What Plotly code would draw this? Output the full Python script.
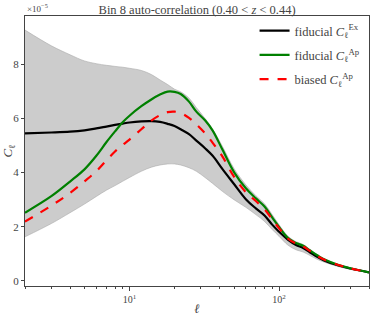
import plotly.graph_objects as go

# multipole grid
ell = [2, 3, 4, 5, 6, 7, 8, 9, 10, 12, 14, 16, 18, 20, 22, 25, 28, 32, 36, 42,
       50, 60, 70, 80, 90, 100, 115, 130, 145, 160, 180, 200, 250, 300, 400]

# values in units of 1e-5
fid_ex = [5.45, 5.48, 5.51, 5.56, 5.63, 5.70, 5.76, 5.81, 5.85, 5.89, 5.90, 5.87, 5.80, 5.72, 5.60,
          5.42, 5.18, 4.90, 4.62, 4.12, 3.58, 3.02, 2.68, 2.42, 2.08, 1.82, 1.52, 1.33, 1.22, 1.07,
          0.89, 0.76, 0.57, 0.46, 0.32]
fid_ap = [2.52, 3.13, 3.67, 4.12, 4.62, 5.12, 5.52, 5.86, 6.10, 6.45, 6.70, 6.88, 6.99, 6.98, 6.90,
          6.62, 6.25, 5.93, 5.55, 4.83, 4.02, 3.42, 3.05, 2.75, 2.35, 2.00, 1.58, 1.40, 1.30, 1.14,
          0.95, 0.80, 0.59, 0.47, 0.32]
bias_ap = [2.19, 2.78, 3.25, 3.68, 4.05, 4.45, 4.78, 5.02, 5.22, 5.60, 5.92, 6.12, 6.23, 6.25, 6.20,
           6.02, 5.78, 5.45, 5.10, 4.58, 3.85, 3.28, 2.95, 2.65, 2.28, 1.95, 1.56, 1.38, 1.28, 1.12,
           0.93, 0.79, 0.59, 0.47, 0.32]
band_hi = [9.26, 8.68, 8.35, 8.12, 8.02, 7.96, 7.92, 7.89, 7.85, 7.77, 7.62, 7.42, 7.25, 7.08, 6.98,
           6.75, 6.40, 6.00, 5.60, 4.95, 4.15, 3.55, 3.15, 2.85, 2.45, 2.08, 1.65, 1.45, 1.35, 1.18,
           0.98, 0.82, 0.61, 0.48, 0.33]
band_lo = [1.63, 2.12, 2.52, 2.84, 3.12, 3.35, 3.52, 3.68, 3.82, 4.05, 4.20, 4.28, 4.32, 4.32, 4.28,
           4.18, 4.05, 3.82, 3.60, 3.30, 3.00, 2.72, 2.45, 2.20, 1.90, 1.65, 1.32, 1.15, 1.07, 0.95,
           0.80, 0.70, 0.53, 0.43, 0.30]

y_ticks = [0, 2, 4, 6, 8]
x_ticks = [10, 100]
x_tick_text = ["10<sup>1</sup>", "10<sup>2</sup>"]

FONT = "Liberation Serif"
AX = "#444444"

fig = go.Figure()
fig.add_trace(go.Scatter(x=ell, y=band_hi, mode="lines", line=dict(color="rgb(170,170,170)", width=0.6, shape="spline"),
                         showlegend=False, hoverinfo="skip"))
fig.add_trace(go.Scatter(x=ell, y=band_lo, mode="lines", line=dict(color="rgb(170,170,170)", width=0.6, shape="spline"),
                         fill="tonexty", fillcolor="rgb(204,204,204)", showlegend=False, hoverinfo="skip"))
fig.add_trace(go.Scatter(x=ell, y=fid_ex, mode="lines", line=dict(color="black", width=2.2, shape="spline"),
                         legendgroup="a", name="fiducial <i>C</i><sub>ℓ</sub><sup>Ex</sup>"))
fig.add_trace(go.Scatter(x=ell, y=fid_ap, mode="lines", line=dict(color="green", width=2.2, shape="spline"),
                         legendgroup="b", name="fiducial <i>C</i><sub>ℓ</sub><sup>Ap</sup>"))
fig.add_trace(go.Scatter(x=ell, y=bias_ap, mode="lines",
                         line=dict(color="red", width=2.2, dash="dash", shape="spline"),
                         legendgroup="c", name="biased <i>C</i><sub>ℓ</sub><sup>Ap</sup>"))

fig.update_layout(
    width=374, height=316,
    margin=dict(l=25, r=5, t=16, b=30),
    paper_bgcolor="white", plot_bgcolor="white",
    font=dict(family=FONT, size=11, color=AX),
    title=dict(text="Bin 8 auto-correlation (0.40 < <i>z</i> < 0.44)", x=0.527, xanchor="center",
               y=0.968, yanchor="middle", font=dict(family=FONT, size=12.5, color=AX)),
    legend=dict(x=0.99, y=1.0, xanchor="right", yanchor="top", bgcolor="rgba(0,0,0,0)",
                traceorder="grouped",
                font=dict(family=FONT, size=12.5, color=AX), tracegroupgap=5, itemwidth=30),
    xaxis=dict(type="log", range=[0.301, 2.602], tickvals=x_ticks, ticktext=x_tick_text,
               automargin=False,
               ticks="outside", ticklen=4, tickcolor=AX, showline=True, linecolor=AX, linewidth=1,
               mirror=True, showgrid=False, zeroline=False,
               minor=dict(ticks="outside", ticklen=2, tickcolor=AX, dtick="D1"),
               title=dict(text="<i>ℓ</i>", standoff=2, font=dict(family=FONT, size=13, color=AX)),
               tickfont=dict(family=FONT, size=10, color=AX)),
    yaxis=dict(range=[-0.185, 9.78], tickvals=y_ticks, ticks="outside", ticklen=3, tickcolor=AX,
               automargin=False,
               showline=True, linecolor=AX, linewidth=1, mirror=True, showgrid=False, zeroline=False,
               title=dict(text="<i>C</i><sub>ℓ</sub>", standoff=0, font=dict(family=FONT, size=13, color=AX)),
               tickfont=dict(family=FONT, size=11, color=AX)),
    annotations=[dict(text="×10<sup>−5</sup>", xref="paper", yref="paper", x=0, y=1.0,
                      xanchor="left", yanchor="bottom", showarrow=False,
                      font=dict(family=FONT, size=9, color=AX))],
)

fig.write_html("out.html", config={"displayModeBar": False},
               post_script="document.body.style.margin='0';document.body.style.overflow='hidden';")
